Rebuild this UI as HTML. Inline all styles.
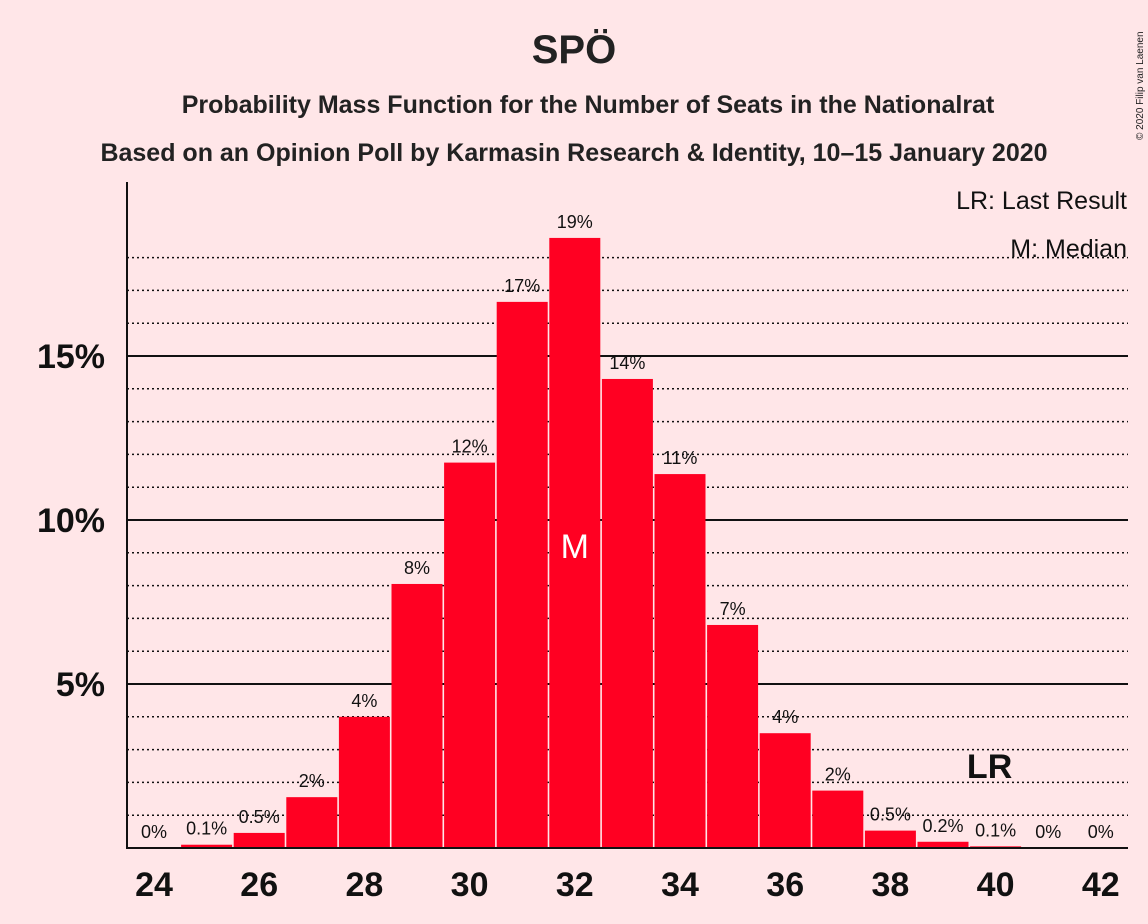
<!DOCTYPE html>
<html><head><meta charset="utf-8"><style>
body{margin:0;background:#ffe6e8;}
svg{display:block;font-family:"Liberation Sans",sans-serif;}
</style></head><body>
<svg id="chart" width="1148" height="924" viewBox="0 0 1148 924">
<rect width="1148" height="924" fill="#ffe6e8"/>
<text x="574" y="63" text-anchor="middle" font-size="40" font-weight="bold" fill="#222">SPÖ</text>
<text x="588" y="113" text-anchor="middle" font-size="25" font-weight="bold" fill="#222">Probability Mass Function for the Number of Seats in the Nationalrat</text>
<text x="574" y="161" text-anchor="middle" font-size="25" font-weight="bold" fill="#222">Based on an Opinion Poll by Karmasin Research &amp; Identity, 10–15 January 2020</text>
<text transform="translate(1143,140) rotate(-90)" font-size="10" fill="#222">© 2020 Filip van Laenen</text>
<g id="grid"></g>
<g id="bars"></g>
<g id="labels"></g>
<line x1="127" y1="182" x2="127" y2="849" stroke="#111" stroke-width="2"/>
<line x1="126" y1="848" x2="1128" y2="848" stroke="#111" stroke-width="2"/>
<text x="1127" y="209" text-anchor="end" font-size="25" fill="#111">LR: Last Result</text>
<text x="1127" y="257" text-anchor="end" font-size="25" fill="#111">M: Median</text>
</svg>
<script>
const seats=[24,25,26,27,28,29,30,31,32,33,34,35,36,37,38,39,40,41,42];
const probs=[0,0.1,0.46,1.55,4.0,8.05,11.75,16.65,18.6,14.3,11.4,6.8,3.5,1.75,0.53,0.19,0.05,0,0];
const labels=["0%","0.1%","0.5%","2%","4%","8%","12%","17%","19%","14%","11%","7%","4%","2%","0.5%","0.2%","0.1%","0%","0%"];
const yTicks=[5,10,15];
const xTicks=[24,26,28,30,32,34,36,38,40,42];
const median=32, lastResult=40;
const ns="http://www.w3.org/2000/svg";
const x=s=>154+(s-24)*52.6;
const y=p=>848-p*32.8;
function mk(t,a,parent){const e=document.createElementNS(ns,t);for(const k in a)e.setAttribute(k,a[k]);parent.appendChild(e);return e;}
const grid=document.getElementById('grid'),bars=document.getElementById('bars'),lab=document.getElementById('labels');
for(let p=1;p<=18;p++){
  const solid=p%5===0;
  const l=mk('line',{x1:127,x2:1128,y1:y(p),y2:y(p),stroke:'#111','stroke-width':solid?2:1.5,'stroke-dasharray':solid?'':'2,3'},grid);
  
  
}
yTicks.forEach(v=>{
  const t=mk('text',{x:105,y:y(v)+12,'text-anchor':'end','font-size':34,'font-weight':'bold',fill:'#111'},grid);
  t.textContent=v+'%';
  
  
});
xTicks.forEach(s=>{
  const t=mk('text',{x:x(s),y:896,'text-anchor':'middle','font-size':34,'font-weight':'bold',fill:'#111'},grid);
  t.textContent=s;
  
  
});
seats.forEach((s,i)=>{
  const p=probs[i];
  if(p>0){
    const r=mk('rect',{x:x(s)-25.5,y:y(p),width:51,height:848-y(p),fill:'#ff0022'},bars);
    
    
  }
  const t=mk('text',{x:x(s),y:y(p)-10,'text-anchor':'middle','font-size':18,fill:'#111'},lab);
  t.textContent=labels[i];
  
  
});
const mi=seats.indexOf(median);
const m=mk('text',{x:x(median),y:(y(probs[mi])+848)/2+15,'text-anchor':'middle','font-size':34,fill:'#fff'},lab);
m.textContent='M';


const lr=mk('text',{x:x(lastResult)-6,y:778,'text-anchor':'middle','font-size':34,'font-weight':'bold',fill:'#111'},lab);
lr.textContent='LR';


</script>
</body></html>
